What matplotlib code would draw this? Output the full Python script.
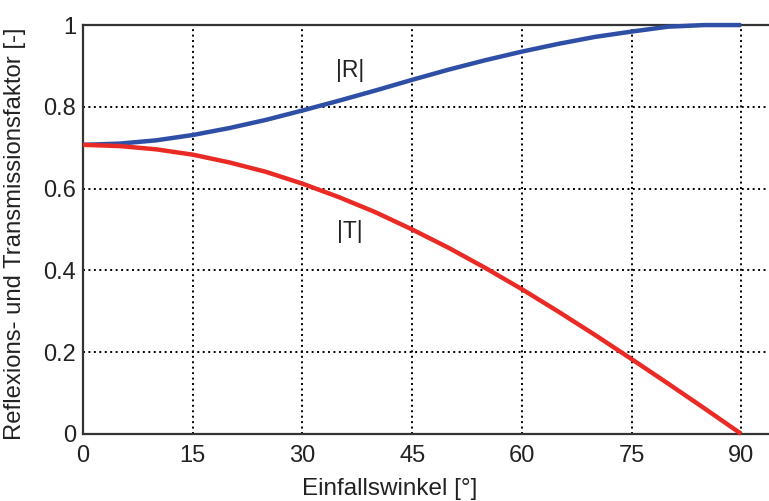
import matplotlib
matplotlib.use("Agg")
import matplotlib.pyplot as plt

plt.rcParams['font.family'] = ['Liberation Sans', 'DejaVu Sans']

# Einfallswinkel in Grad
winkel = [0, 5, 10, 15, 20, 25, 30, 35, 40, 45, 50, 55, 60, 65, 70, 75, 80, 85, 90]
# Reflexionsfaktor |R| und Transmissionsfaktor |T|
R = [0.707, 0.710, 0.718, 0.731, 0.748, 0.768, 0.791, 0.815, 0.840, 0.866,
     0.891, 0.914, 0.935, 0.954, 0.971, 0.984, 0.996, 1.0, 1.0]
T = [0.707, 0.704, 0.696, 0.683, 0.664, 0.641, 0.612, 0.579, 0.542, 0.500,
     0.455, 0.406, 0.354, 0.299, 0.242, 0.183, 0.123, 0.062, 0.0]

xticks = [0, 15, 30, 45, 60, 75, 90]
yticks = [0, 0.2, 0.4, 0.6, 0.8, 1]
yticklabels = ['0', '0.2', '0.4', '0.6', '0.8', '1']

fig = plt.figure(figsize=(7.69, 5.01), dpi=100)
ax = fig.add_axes([0.108, 0.134, 0.892, 0.816])

ax.plot(winkel, R, color='#2f4fa6', lw=3.2, solid_capstyle='butt', zorder=3, clip_on=False)
ax.plot(winkel, T, color='#ea2b25', lw=3.2, solid_capstyle='butt', zorder=3, clip_on=False)

ax.text(36.5, 0.89, '|R|', fontsize=16.5, ha='center', va='center', color='#222222')
ax.text(36.5, 0.495, '|T|', fontsize=16.5, ha='center', va='center', color='#222222')

ax.set_xlim(0, 93.8)
ax.set_ylim(0, 1)
ax.set_xticks(xticks)
ax.set_yticks(yticks)
ax.set_yticklabels(yticklabels)
ax.tick_params(length=0, labelsize=17, colors='#222222')
ax.tick_params(axis='x', pad=8)
ax.tick_params(axis='y', pad=5)
ax.grid(True, color='black', linestyle=(0, (1, 1.8)), linewidth=1.4)

for side in ['left', 'bottom', 'top']:
    ax.spines[side].set_color('#333333')
    ax.spines[side].set_linewidth(1.6)
ax.spines['right'].set_visible(False)

ax.set_xlabel('Einfallswinkel [°]', fontsize=17.5, color='#222222')
ax.xaxis.set_label_coords(0.447, -0.108)
ax.set_ylabel('Reflexions- und Transmissionsfaktor [-]', fontsize=17.2, color='#222222')
ax.yaxis.set_label_coords(-0.083, 0.49)

fig.savefig('out.png', dpi=100)
